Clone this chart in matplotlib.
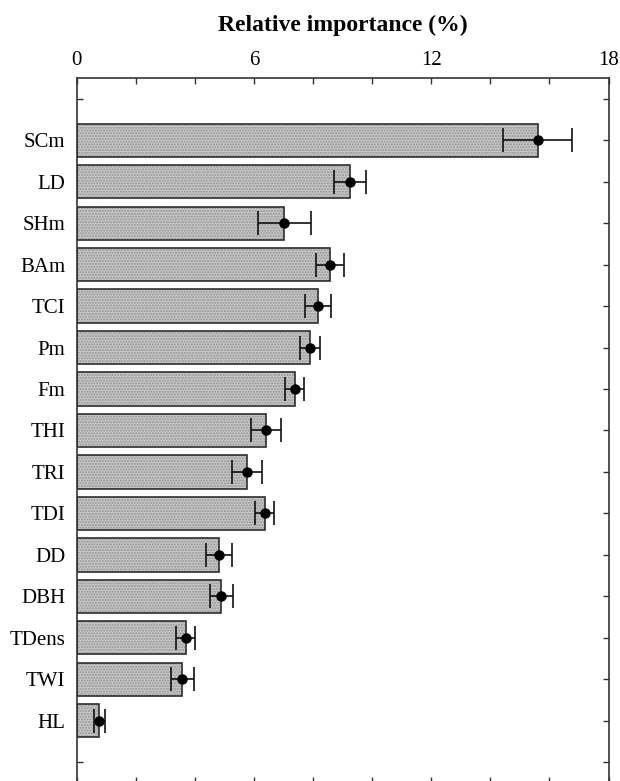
import numpy as np
import matplotlib.pyplot as plt

# relative importance of predictors (%), mean and error
names = ['SCm', 'LD', 'SHm', 'BAm', 'TCI', 'Pm', 'Fm', 'THI', 'TRI', 'TDI',
         'DD', 'DBH', 'TDens', 'TWI', 'HL']
importance = [15.6, 9.25, 7.03, 8.58, 8.16, 7.90, 7.38, 6.41, 5.77, 6.36,
              4.82, 4.90, 3.69, 3.58, 0.77]
err = [1.17, 0.55, 0.89, 0.48, 0.44, 0.33, 0.33, 0.52, 0.50, 0.32,
       0.43, 0.39, 0.32, 0.39, 0.18]

plt.rcParams['font.family'] = ['Liberation Serif', 'DejaVu Serif']

fig = plt.figure(figsize=(6.2, 7.81), dpi=100)
ax = fig.add_axes([76.7 / 620, -2 / 781, (608.5 - 76.7) / 620, 705 / 781])

ypos = np.arange(1, len(names) + 1)

# fill with a fine dotted texture, then the outline on top
ax.barh(ypos, importance, height=0.8, color='#c6c6c6', hatch='......',
        edgecolor='#959595', linewidth=0, zorder=2)
ax.barh(ypos, importance, height=0.8, color='none', edgecolor='#2e2e2e',
        linewidth=1.2, zorder=3)
ax.errorbar(importance, ypos, xerr=err, fmt='o', color='black', ms=6.5,
            ecolor='#111111', elinewidth=1.2, capsize=8.3, capthick=1.2,
            zorder=4)

ax.set_xlim(0, 18)
ax.set_ylim(16.5, -0.5)

ax.set_xticks(np.arange(0, 19, 2))
ax.set_xticklabels([str(v) if v % 6 == 0 else '' for v in range(0, 19, 2)])
ax.set_yticks(np.arange(0, 17))
ax.set_yticklabels([''] + names + [''])

ax.xaxis.set_ticks_position('both')
ax.yaxis.set_ticks_position('both')
ax.tick_params(axis='both', direction='in', length=4, width=1, color='#333333',
               labelsize=15)
ax.tick_params(axis='x', labeltop=True, labelbottom=False, pad=6)
ax.tick_params(axis='y', pad=8)

ax.xaxis.set_label_position('top')
ax.set_xlabel('Relative importance (%)', fontsize=17, fontweight='bold',
              labelpad=14)

for s in ax.spines.values():
    s.set_linewidth(1.2)
    s.set_color('#333333')

fig.savefig('out.png', dpi=100)
